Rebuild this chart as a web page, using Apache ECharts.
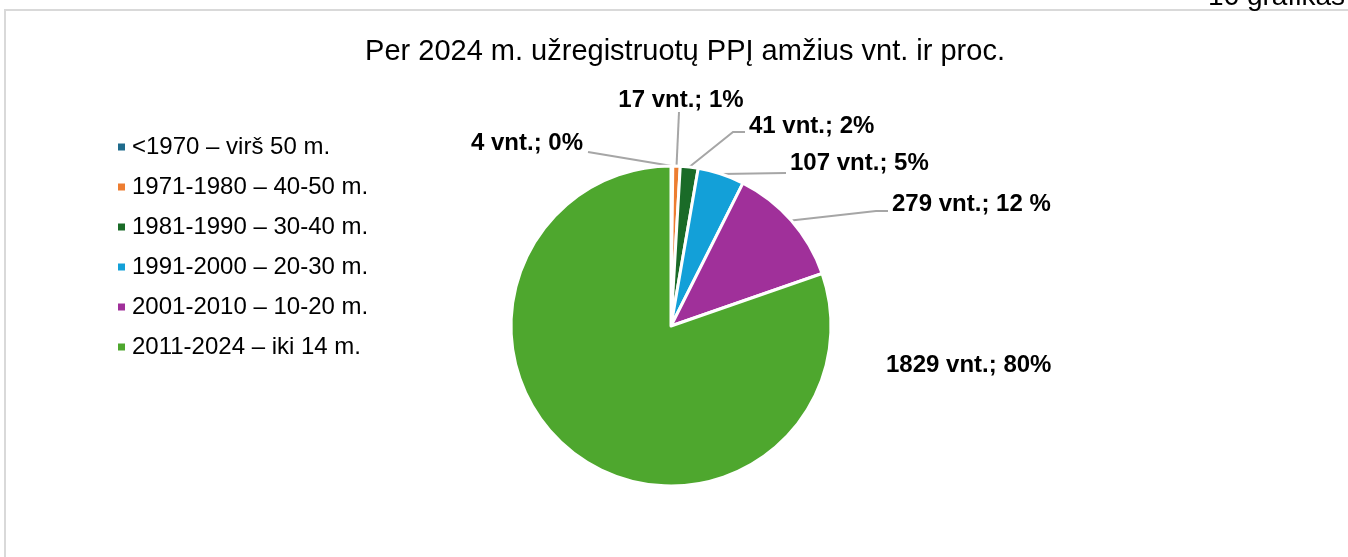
<!DOCTYPE html>
<html>
<head>
<meta charset="utf-8">
<script src="https://cdn.jsdelivr.net/npm/echarts@6/dist/echarts.min.js"></script>
<style>
  html, body { margin: 0; padding: 0; background: #fff; }
  #main { width: 1348px; height: 557px; }
</style>
</head>
<body>
<div id="main"></div>
<script>
// duomenys
var categories = ['<1970 – virš 50 m.', '1971-1980 – 40-50 m.', '1981-1990 – 30-40 m.', '1991-2000 – 20-30 m.', '2001-2010 – 10-20 m.', '2011-2024 – iki 14 m.'];
var counts = [4, 17, 41, 107, 279, 1829];
var percentLabels = ['0%', '1%', '2%', '5%', '12 %', '80%'];
var colors = ['#1f6b8c', '#ed7d31', '#1a6b28', '#13a0d8', '#a0309a', '#4ea72e'];

// etikečių vietos (x, y, lygiavimas, linijos taškai)
var labelPos = [
  { x: 583, y: 143, align: 'right', line: [[588, 152]] },
  { x: 681, y: 100, align: 'center', line: [[679, 112]] },
  { x: 749, y: 126, align: 'left', line: [[733, 132], [745, 132]] },
  { x: 790, y: 163, align: 'left', line: [[786, 173]] },
  { x: 892, y: 204, align: 'left', line: [[876, 211], [888, 211]] },
  { x: 886, y: 365, align: 'left', line: null }
];

var chart = echarts.init(document.getElementById('main'));

var pieData = categories.map(function (c, i) {
  return {
    name: c,
    value: counts[i],
    itemStyle: { color: colors[i] },
    labelLine: { show: labelPos[i].line !== null }
  };
});

var option = {
  animation: false,
  title: {
    text: 'Per 2024 m. užregistruotų PPĮ amžius vnt. ir proc.',
    left: 680,
    top: 32,
    textAlign: 'center',
    textStyle: { fontFamily: 'Liberation Sans, Arial', fontSize: 29, fontWeight: 'normal', color: '#000' }
  },
  graphic: [
    { // rėmelis
      type: 'rect',
      shape: { x: 5, y: 10, width: 1400, height: 600 },
      style: { fill: 'none', stroke: '#d9d9d9', lineWidth: 2 },
      silent: true
    },
    {
      type: 'text',
      right: 3,
      top: -17,
      style: { text: '16 grafikas', font: '28px "Liberation Sans", Arial', fill: '#000' }
    }
  ],
  legend: {
    orient: 'vertical',
    left: 111,
    top: 130,
    icon: 'rect',
    itemWidth: 9,
    itemHeight: 9,
    itemGap: 16,
    data: categories,
    textStyle: { fontFamily: 'Liberation Sans, Arial', fontSize: 24, lineHeight: 24, color: '#000', padding: [0, 0, 0, 1] }
  },
  series: [{
    type: 'pie',
    center: [671, 326],
    radius: 160,
    startAngle: 90,
    clockwise: true,
    itemStyle: { borderColor: '#fff', borderWidth: 3 },
    label: {
      show: true,
      fontFamily: 'Liberation Sans, Arial',
      fontSize: 24,
      fontWeight: 'bold',
      color: '#000',
      formatter: function (p) { return p.value + ' vnt.; ' + percentLabels[p.dataIndex]; }
    },
    labelLine: { lineStyle: { color: '#a6a6a6', width: 2 } },
    labelLayout: function (p) {
      var lp = labelPos[p.dataIndex];
      var res = { x: lp.x, y: lp.y, align: lp.align, verticalAlign: 'middle' };
      if (lp.line && p.labelLinePoints) {
        res.labelLinePoints = [p.labelLinePoints[0]].concat(lp.line);
      }
      return res;
    },
    data: pieData
  }]
};

chart.setOption(option);
</script>
</body>
</html>
